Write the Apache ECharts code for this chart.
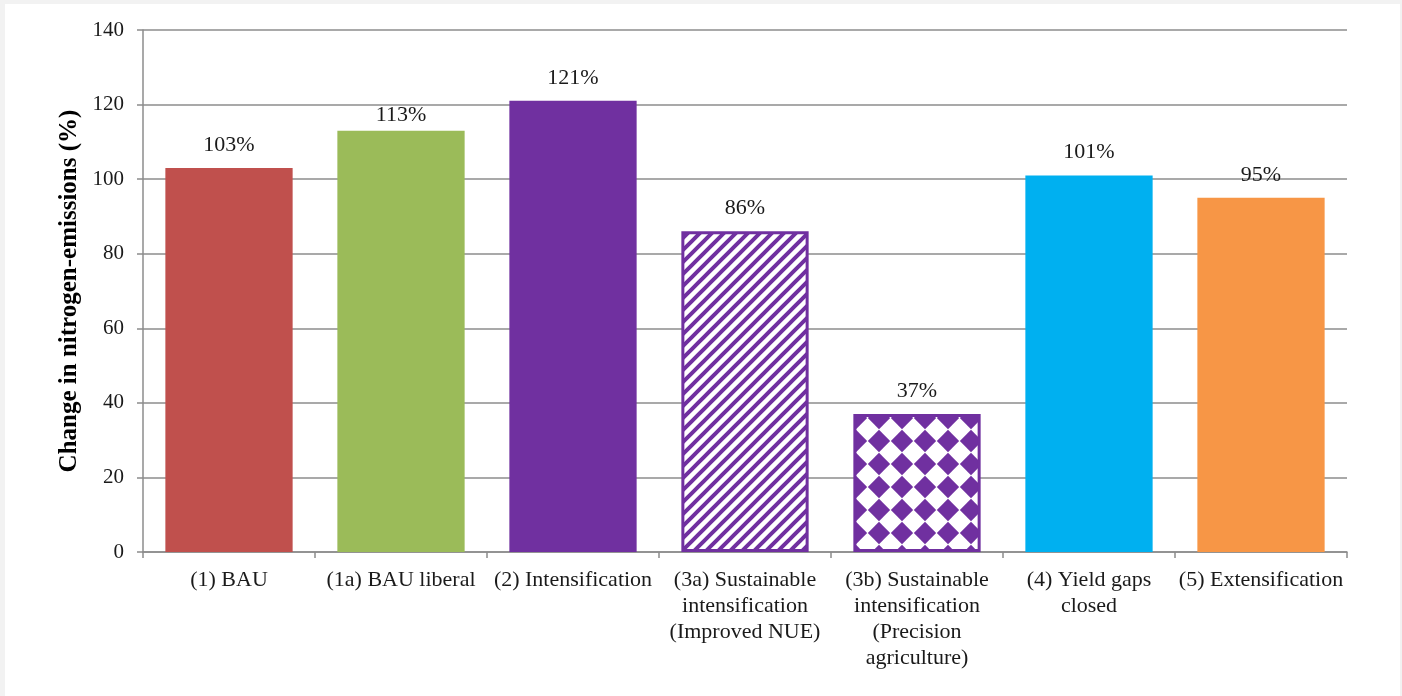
<!DOCTYPE html>
<html>
<head>
<meta charset="utf-8">
<script src="https://cdn.jsdelivr.net/npm/echarts@6/dist/echarts.min.js"></script>
<style>
  html, body { margin: 0; padding: 0; background: #f2f2f2; width: 1402px; height: 696px; overflow: hidden; }
  #chart { position: absolute; left: 5px; top: 4px; width: 1395px; height: 692px; background: #ffffff; }
</style>
</head>
<body>
<div id="chart"></div>
<script>
// Scenario names and change in nitrogen emissions (%)
const categories = [
  '(1) BAU',
  '(1a) BAU liberal',
  '(2) Intensification',
  '(3a) Sustainable\nintensification\n(Improved NUE)',
  '(3b) Sustainable\nintensification\n(Precision\nagriculture)',
  '(4) Yield gaps\nclosed',
  '(5) Extensification'
];
const values = [103, 113, 121, 86, 37, 101, 95];
const yTicks = { min: 0, max: 140, interval: 20 };
const barColors = ['#c0504d', '#9bbb59', '#7030a0', null, null, '#00b0f0', '#f79646'];
const purple = '#7030a0';

// Diagonal stripe fill for the improved-NUE scenario
function stripePattern() {
  const s = 12;
  const c = document.createElement('canvas');
  c.width = s; c.height = s;
  const g = c.getContext('2d');
  g.fillStyle = '#ffffff';
  g.fillRect(0, 0, s, s);
  g.strokeStyle = purple;
  g.lineWidth = 4;
  g.lineCap = 'square';
  g.beginPath();
  g.moveTo(-s, s); g.lineTo(s, -s);
  g.moveTo(0, s); g.lineTo(s, 0);
  g.moveTo(0, 2 * s); g.lineTo(2 * s, 0);
  g.stroke();
  return c;
}

// Diamond checker fill for the precision-agriculture scenario:
// purple diamonds on the tile corners, white ones in between
function diamondPattern() {
  const d = 23;
  const h = d / 2;
  const r = h * 0.97;
  const c = document.createElement('canvas');
  c.width = d; c.height = d;
  const g = c.getContext('2d');
  g.fillStyle = '#ffffff';
  g.fillRect(0, 0, d, d);
  g.fillStyle = purple;
  [[0, 0], [d, 0], [0, d], [d, d]].forEach(([x, y]) => {
    g.beginPath();
    g.moveTo(x, y - r); g.lineTo(x + r, y); g.lineTo(x, y + r); g.lineTo(x - r, y);
    g.closePath();
    g.fill();
  });
  return c;
}

const fills = barColors.slice();
fills[3] = { image: stripePattern(), repeat: 'repeat' };
fills[4] = { image: diamondPattern(), repeat: 'repeat' };

const seriesData = values.map((v, i) => {
  const item = {
    value: v,
    itemStyle: { color: fills[i] }
  };
  if (i === 3 || i === 4) {
    item.itemStyle.borderColor = purple;
    item.itemStyle.borderWidth = 3;
  }
  if (i === 1) {
    item.label = { distance: 4 };
  }
  return item;
});

const serif = '"Liberation Serif", "Times New Roman", serif';

const chart = echarts.init(document.getElementById('chart'), null, { renderer: 'canvas' });
chart.setOption({
  animation: false,
  backgroundColor: '#ffffff',
  grid: { left: 138, right: 53, top: 26, bottom: 144, containLabel: false },
  xAxis: {
    type: 'category',
    data: categories,
    axisLine: { lineStyle: { color: '#8c8c8c', width: 1.5 } },
    axisTick: { show: true, length: 6, interval: 0, alignWithLabel: false, lineStyle: { color: '#8c8c8c', width: 1.5 } },
    axisLabel: {
      interval: 0,
      margin: 15,
      fontFamily: serif,
      fontSize: 22,
      lineHeight: 26,
      color: '#1a1a1a',
      align: 'center',
      verticalAlign: 'top'
    }
  },
  yAxis: {
    type: 'value',
    min: yTicks.min,
    max: yTicks.max,
    interval: yTicks.interval,
    name: 'Change in nitrogen-emissions (%)',
    nameLocation: 'middle',
    nameGap: 60,
    nameRotate: 90,
    nameTextStyle: { fontFamily: serif, fontSize: 25, fontWeight: 'bold', color: '#000000' },
    axisLine: { show: true, lineStyle: { color: '#8c8c8c', width: 1.5 } },
    axisTick: { show: true, length: 6, lineStyle: { color: '#8c8c8c', width: 1.5 } },
    axisLabel: { margin: 19, fontFamily: serif, fontSize: 21, color: '#1a1a1a' },
    splitLine: { show: true, lineStyle: { color: '#8c8c8c', width: 1.5 } }
  },
  series: [{
    type: 'bar',
    data: seriesData,
    barCategoryGap: '26%',
    label: {
      show: true,
      position: 'top',
      distance: 12,
      fontFamily: serif,
      fontSize: 22,
      color: '#1a1a1a',
      formatter: p => p.value + '%'
    }
  }]
});
</script>
</body>
</html>
